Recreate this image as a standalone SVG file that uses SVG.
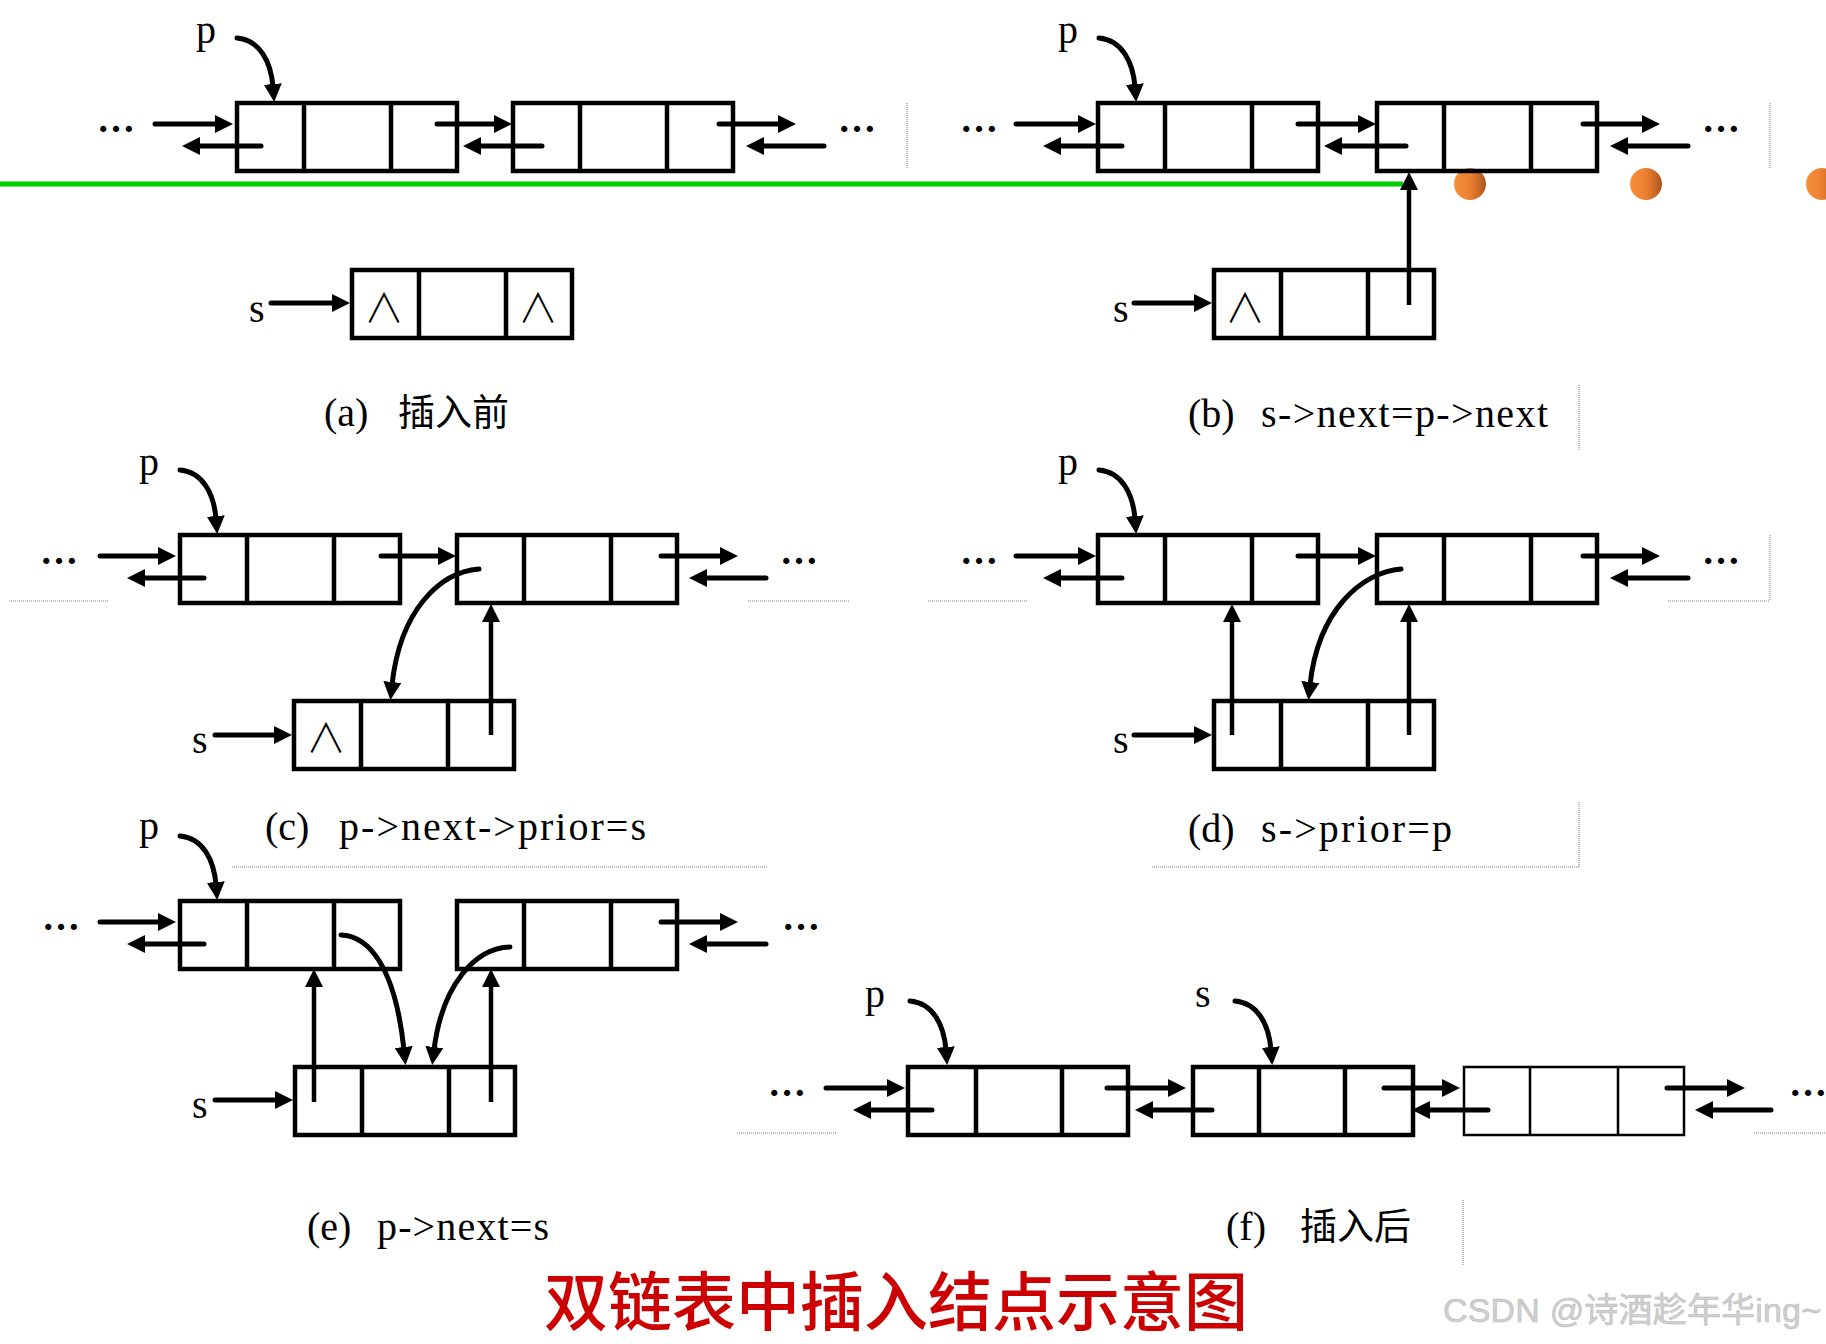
<svg xmlns="http://www.w3.org/2000/svg" width="1826" height="1344" viewBox="0 0 1826 1344">
<style>
.box{fill:none;stroke:#000;stroke-width:4.5}
.thin{fill:none;stroke:#000;stroke-width:2.5}
.arr{fill:none;stroke:#000;stroke-width:5;stroke-linecap:round;marker-end:url(#ah)}
.varr{fill:none;stroke:#000;stroke-width:4.5;marker-end:url(#ah)}
.dot{fill:none;stroke:#808080;stroke-width:1;stroke-dasharray:1 1}
.lbl{font-family:"Liberation Serif",serif;font-size:40px;fill:#000}
.cap{font-family:"Liberation Serif",serif;font-size:40px;fill:#000}
.cjk{font-family:"Noto Sans CJK SC",sans-serif;font-size:37px;fill:#000}
.ell{font-family:"Liberation Serif",serif;font-size:38px;font-weight:bold;fill:#000}
.nul{font-family:"Noto Sans CJK SC",sans-serif;font-size:40px;font-weight:300;fill:#000;text-anchor:middle}
</style>
<defs>
<marker id="ah" markerUnits="userSpaceOnUse" viewBox="0 0 18 18" markerWidth="18" markerHeight="18" refX="3" refY="9" orient="auto"><path d="M0,0 L18,9 L0,18 z" fill="#000"/></marker>
<linearGradient id="og" x1="0" y1="0" x2="1" y2="0"><stop offset="0" stop-color="#f88f3a"/><stop offset="0.5" stop-color="#ec8030"/><stop offset="1" stop-color="#b0561e"/></linearGradient>
</defs>
<rect width="1826" height="1344" fill="#fff"/>

<!-- guides -->
<g id="guides">
<path class="dot" d="M907,103 V168 M1770,103 V169 M1579,385 V450 M9,601 H108 M748,601 H850 M232,867 H767 M928,601 H1028 M1668,601 H1770 M1770,535 V601 M1579,802 V867 M1152,867 H1579 M737,1133 H837 M1754,1133 H1826 M1463,1200 V1265"/>
<line x1="0" y1="184" x2="1403" y2="184" stroke="#00cc00" stroke-width="5"/>
<circle cx="1470" cy="184" r="16" fill="url(#og)"/>
<circle cx="1646" cy="184" r="16" fill="url(#og)"/>
<circle cx="1822" cy="184" r="16" fill="url(#og)"/>
</g>

<!-- (a) -->
<g id="a-n1"><rect class="box" x="237" y="103" width="220" height="68"/><path class="box" d="M304,103 V171 M391,103 V171"/></g>
<g id="a-n2"><rect class="box" x="513" y="103" width="220" height="68"/><path class="box" d="M580,103 V171 M667,103 V171"/></g>
<g id="a-s"><rect class="box" x="352" y="270" width="220" height="68"/><path class="box" d="M419,270 V338 M506,270 V338"/><text class="nul" x="384" y="322">∧</text><text class="nul" x="538" y="322">∧</text></g>
<text class="lbl" x="196" y="43">p</text>
<text class="lbl" x="249" y="322">s</text>
<text class="ell" x="97" y="132" textLength="32">…</text>
<text class="ell" x="838" y="132" textLength="32">…</text>
<text x="324" y="426"><tspan class="cap">(a)</tspan><tspan class="cjk" x="398">插入前</tspan></text>

<!-- (b) -->
<g id="b-n1"><rect class="box" x="1098" y="103" width="220" height="68"/><path class="box" d="M1165,103 V171 M1252,103 V171"/></g>
<g id="b-n2"><rect class="box" x="1377" y="103" width="220" height="68"/><path class="box" d="M1444,103 V171 M1531,103 V171"/></g>
<g id="b-s"><rect class="box" x="1214" y="270" width="220" height="68"/><path class="box" d="M1281,270 V338 M1368,270 V338"/><text class="nul" x="1245" y="322">∧</text></g>
<text class="lbl" x="1058" y="43">p</text>
<text class="lbl" x="1113" y="322">s</text>
<text class="ell" x="960" y="132" textLength="32">…</text>
<text class="ell" x="1702" y="132" textLength="32">…</text>
<text x="1188" y="427"><tspan class="cap">(b)</tspan><tspan class="cap" x="1261" textLength="287">s-&gt;next=p-&gt;next</tspan></text>

<!-- (c) -->
<g id="c-n1"><rect class="box" x="180" y="535" width="220" height="68"/><path class="box" d="M247,535 V603 M334,535 V603"/></g>
<g id="c-n2"><rect class="box" x="457" y="535" width="220" height="68"/><path class="box" d="M524,535 V603 M611,535 V603"/></g>
<g id="c-s"><rect class="box" x="294" y="701" width="220" height="68"/><path class="box" d="M361,701 V769 M448,701 V769"/><text class="nul" x="326" y="752">∧</text></g>
<text class="lbl" x="139" y="475">p</text>
<text class="lbl" x="192" y="753">s</text>
<text class="ell" x="40" y="564" textLength="32">…</text>
<text class="ell" x="780" y="564" textLength="32">…</text>
<text x="265" y="840"><tspan class="cap">(c)</tspan><tspan class="cap" x="339" textLength="307">p-&gt;next-&gt;prior=s</tspan></text>

<!-- (d) -->
<g id="d-n1"><rect class="box" x="1098" y="535" width="220" height="68"/><path class="box" d="M1165,535 V603 M1252,535 V603"/></g>
<g id="d-n2"><rect class="box" x="1377" y="535" width="220" height="68"/><path class="box" d="M1444,535 V603 M1531,535 V603"/></g>
<g id="d-s"><rect class="box" x="1214" y="701" width="220" height="68"/><path class="box" d="M1281,701 V769 M1368,701 V769"/></g>
<text class="lbl" x="1058" y="475">p</text>
<text class="lbl" x="1113" y="753">s</text>
<text class="ell" x="960" y="564" textLength="32">…</text>
<text class="ell" x="1702" y="564" textLength="32">…</text>
<text x="1188" y="842"><tspan class="cap">(d)</tspan><tspan class="cap" x="1261" textLength="191">s-&gt;prior=p</tspan></text>

<!-- (e) -->
<g id="e-n1"><rect class="box" x="180" y="901" width="220" height="68"/><path class="box" d="M247,901 V969 M334,901 V969"/></g>
<g id="e-n2"><rect class="box" x="457" y="901" width="220" height="68"/><path class="box" d="M524,901 V969 M611,901 V969"/></g>
<g id="e-s"><rect class="box" x="295" y="1067" width="220" height="68"/><path class="box" d="M362,1067 V1135 M449,1067 V1135"/></g>
<text class="lbl" x="139" y="839">p</text>
<text class="lbl" x="192" y="1118">s</text>
<text class="ell" x="42" y="930" textLength="32">…</text>
<text class="ell" x="782" y="930" textLength="32">…</text>
<text x="307" y="1240"><tspan class="cap">(e)</tspan><tspan class="cap" x="377" textLength="172">p-&gt;next=s</tspan></text>

<!-- (f) -->
<g id="f-n1"><rect class="box" x="908" y="1067" width="220" height="68"/><path class="box" d="M976,1067 V1135 M1062,1067 V1135"/></g>
<g id="f-n2"><rect class="box" x="1193" y="1067" width="220" height="68"/><path class="box" d="M1259,1067 V1135 M1345,1067 V1135"/></g>
<g id="f-n3"><rect class="thin" x="1464" y="1067" width="220" height="68"/><path class="thin" d="M1530,1067 V1135 M1618,1067 V1135"/></g>
<text class="lbl" x="865" y="1007">p</text>
<text class="lbl" x="1195" y="1007">s</text>
<text class="ell" x="768" y="1096" textLength="32">…</text>
<text class="ell" x="1789" y="1096" textLength="32">…</text>
<text x="1226" y="1240"><tspan class="cap">(f)</tspan><tspan class="cjk" x="1300">插入后</tspan></text>

<!-- connectors -->
<g id="connectors">
<!-- a -->
<path class="arr" d="M237,38 C260,40 271,62 273,87"/>
<path class="arr" d="M155,124 H218"/>
<path class="arr" d="M261,146 H197"/>
<path class="arr" d="M437,124 H497"/>
<path class="arr" d="M542,146 H478"/>
<path class="arr" d="M719,124 H781"/>
<path class="arr" d="M824,146 H761"/>
<path class="arr" d="M271,303 H335"/>
<!-- b -->
<path class="arr" d="M1099,38 C1122,40 1133,62 1135,87"/>
<path class="arr" d="M1016,124 H1081"/>
<path class="arr" d="M1122,146 H1058"/>
<path class="arr" d="M1298,124 H1361"/>
<path class="arr" d="M1406,146 H1339"/>
<path class="arr" d="M1583,124 H1645"/>
<path class="arr" d="M1688,146 H1625"/>
<path class="arr" d="M1134,303 H1197"/>
<path class="varr" d="M1409,305 V187"/>
<!-- c -->
<path class="arr" d="M180,470 C203,472 214,494 216,519"/>
<path class="arr" d="M100,556 H161"/>
<path class="arr" d="M204,578 H142"/>
<path class="arr" d="M381,556 H441"/>
<path class="arr" d="M661,556 H723"/>
<path class="arr" d="M766,578 H704"/>
<path class="arr" d="M215,735 H277"/>
<path class="arr" d="M479,569 C440,572 400,610 392,685"/>
<path class="varr" d="M491,735 V619"/>
<!-- d -->
<path class="arr" d="M1099,470 C1122,472 1133,494 1135,519"/>
<path class="arr" d="M1016,556 H1081"/>
<path class="arr" d="M1122,578 H1058"/>
<path class="arr" d="M1298,556 H1361"/>
<path class="arr" d="M1583,556 H1645"/>
<path class="arr" d="M1688,578 H1625"/>
<path class="arr" d="M1134,735 H1197"/>
<path class="arr" d="M1401,569 C1362,572 1318,610 1310,685"/>
<path class="varr" d="M1232,735 V619"/>
<path class="varr" d="M1409,735 V619"/>
<!-- e -->
<path class="arr" d="M180,836 C203,838 214,860 216,885"/>
<path class="arr" d="M100,922 H161"/>
<path class="arr" d="M204,944 H142"/>
<path class="arr" d="M661,922 H723"/>
<path class="arr" d="M766,944 H704"/>
<path class="arr" d="M215,1100 H278"/>
<path class="arr" d="M341,935 C368,936 395,965 404,1050"/>
<path class="arr" d="M510,947 C475,948 442,985 434,1050"/>
<path class="varr" d="M314,1102 V984"/>
<path class="varr" d="M491,1102 V984"/>
<!-- f -->
<path class="arr" d="M910,1001 C933,1003 944,1025 946,1050"/>
<path class="arr" d="M1235,1001 C1258,1003 1269,1025 1271,1050"/>
<path class="arr" d="M826,1088 H890"/>
<path class="arr" d="M932,1110 H868"/>
<path class="arr" d="M1107,1088 H1171"/>
<path class="arr" d="M1212,1110 H1150"/>
<path class="arr" d="M1384,1088 H1445"/>
<path class="arr" d="M1488,1110 H1427"/>
<path class="arr" d="M1667,1088 H1730"/>
<path class="arr" d="M1771,1110 H1710"/>
</g>

<text x="544" y="1325" font-family="'Noto Sans CJK SC',sans-serif" font-size="64" font-weight="500" fill="#cc0000" textLength="704">双链表中插入结点示意图</text>
<text x="1443" y="1322" font-family="'Liberation Sans','Noto Sans CJK SC',sans-serif" font-size="34" fill="#cfcfcf" stroke="#bdbdbd" stroke-width="0.6" textLength="378">CSDN @诗酒趁年华ing~</text>
</svg>
